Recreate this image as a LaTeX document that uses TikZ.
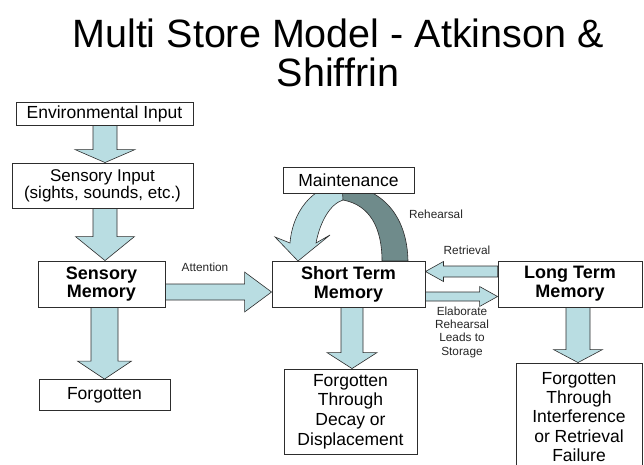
\documentclass[tikz,border=0pt]{standalone}
\usepackage{fontspec}
\setmainfont{Liberation Sans}
\usetikzlibrary{calc,backgrounds}
\definecolor{lightfill}{RGB}{185,221,226}
\definecolor{darkfill}{RGB}{111,139,139}
\definecolor{edgecol}{RGB}{45,45,45}
% vertical block arrow: #1 x, #2 from node, #3 to node, #4 shaft half, #5 head half, #6 head length
\newcommand\vblk[6]{\draw[barrow] let \p1=(#2.south), \p2=(#3.north) in
  ({#1pt-#4pt},{\y1}) -- ({#1pt-#4pt},{\y2+#6pt}) -- ({#1pt-#5pt},{\y2+#6pt}) -- ({#1pt},{\y2})
  -- ({#1pt+#5pt},{\y2+#6pt}) -- ({#1pt+#4pt},{\y2+#6pt}) -- ({#1pt+#4pt},{\y1}) -- cycle;}
% horizontal block arrow: #1 y, #2 from node anchor, #3 to node anchor, #4 shaft half, #5 head half, #6 signed head length
\newcommand\hblk[6]{\draw[barrow] let \p1=(#2), \p2=(#3) in
  ({\x1},{#1pt+#4pt}) -- ({\x2-(#6)*1pt},{#1pt+#4pt}) -- ({\x2-(#6)*1pt},{#1pt+#5pt}) -- ({\x2},{#1pt})
  -- ({\x2-(#6)*1pt},{#1pt-#5pt}) -- ({\x2-(#6)*1pt},{#1pt-#4pt}) -- ({\x1},{#1pt-#4pt}) -- cycle;}
\begin{document}
\begin{tikzpicture}[x=1pt,y=1pt,
  box/.style={draw=edgecol, line width=0.9pt, fill=white, inner sep=0pt, align=center,
    font=\fontsize{17.5}{19.7}\selectfont},
  boldbox/.style={box, font=\fontsize{18}{18.8}\selectfont\bfseries},
  lbl/.style={inner sep=0pt, font=\fontsize{11.8}{13.3}\selectfont, text=black!85, align=center},
  barrow/.style={fill=lightfill, draw=edgecol, line width=0.6pt, line join=miter},
  ribbon/.style={draw=edgecol, line width=0.6pt, line join=miter},
]
\useasboundingbox (0,0) rectangle (644,-464);

\node[inner sep=0pt, align=center, font=\fontsize{39.5}{39.5}\selectfont] (title) at (338,-53)
  {Multi Store Model - Atkinson \&\\Shiffrin};

\node[box, minimum width=177pt, minimum height=23pt] (env) at (104.5,-113.5) {Environmental Input};
\node[box, minimum width=181pt, minimum height=45pt, font=\fontsize{17}{17}\selectfont] (sensin) at (102.5,-185.5)
  {Sensory Input\\(sights, sounds, etc.)};
\node[boldbox, minimum width=127pt, minimum height=46pt] (sm) at (101.5,-284) {Sensory\\Memory};
\node[box, minimum width=131pt, minimum height=31pt] (forg) at (104.5,-395) {Forgotten};
\node[box, minimum width=131pt, minimum height=26pt] (maint) at (348.5,-180) {Maintenance};
\node[boldbox, minimum width=153pt, minimum height=46pt] (stm) at (348.5,-284) {Short Term\\Memory};
\node[boldbox, minimum width=144pt, minimum height=46pt] (ltm) at (570,-284) {Long Term\\Memory};
\node[box, minimum width=133pt, minimum height=85pt] (decay) at (350.5,-411.5)
  {Forgotten\\Through\\Decay or\\Displacement};
\node[box, minimum width=126pt, minimum height=108pt, font=\fontsize{17.5}{19.4}\selectfont] (interf) at (579,-417)
  {Forgotten\\Through\\Interference\\or Retrieval\\Failure};

\node[lbl] (att) at (205,-267) {Attention};
\node[lbl] (reh) at (436,-214) {Rehearsal};
\node[lbl] (ret) at (467,-250) {Retrieval};
\node[lbl] (elab) at (462,-332) {Elaborate\\Rehearsal\\Leads to\\Storage};

\begin{scope}[on background layer]
  \fill[white] (0,0) rectangle (644,-464);
  \vblk{105}{env}{sensin}{12}{30}{13}
  \vblk{105}{sensin}{sm}{12}{29.5}{24}
  \vblk{104.5}{sm}{forg}{13.5}{27}{18}
  \vblk{352}{stm}{decay}{11}{25}{16}
  \vblk{578}{ltm}{interf}{12}{24.5}{13}
  \hblk{-292}{sm.east}{stm.west}{8}{20}{27}
  \hblk{-271.5}{ltm.west}{stm.east}{5.5}{10}{-18}
  \hblk{-296.5}{stm.east}{ltm.west}{4.5}{10}{18}
  % maintenance rehearsal loop
  \draw[ribbon, fill=lightfill] (345,-183) .. controls (310,-185) and (292,-215) .. (290,-243)
    -- (275,-237) -- (298,-261) -- (330,-235) -- (316,-243)
    .. controls (320,-222) and (330,-204) .. (343,-200) -- cycle;
  \draw[ribbon, fill=darkfill] (408,-261) .. controls (407,-215) and (382,-188) .. (342,-184)
    -- (343,-200) .. controls (370,-205) and (382,-228) .. (382,-261) -- cycle;
\end{scope}
\end{tikzpicture}
\end{document}
